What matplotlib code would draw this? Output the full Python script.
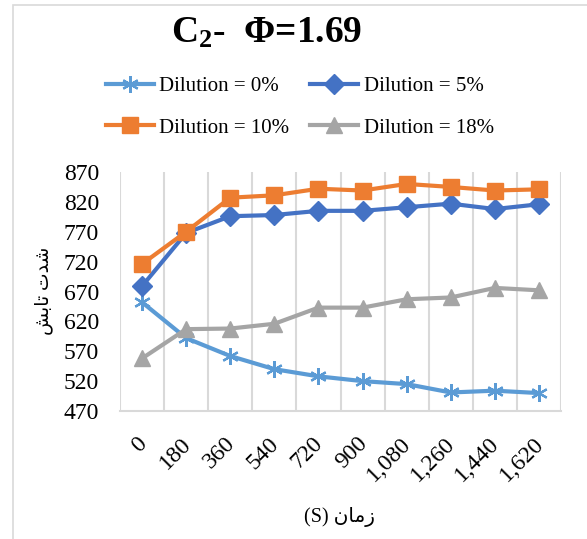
import numpy as np
import matplotlib
matplotlib.use("Agg")
import matplotlib.pyplot as plt
import matplotlib.transforms as mtransforms
from matplotlib.patches import Rectangle

plt.rcParams['font.family'] = ['Liberation Serif', 'DejaVu Sans']
plt.rcParams['mathtext.fontset'] = 'custom'
plt.rcParams['mathtext.rm'] = 'Liberation Serif'
plt.rcParams['mathtext.bf'] = 'Liberation Serif:bold'

# time steps (s) and tick labels
times = ['0', '180', '360', '540', '720', '900', '1,080', '1,260', '1,440', '1,620']

# radiation intensity per dilution level
dil_0 = [652, 592, 562, 540, 528, 520, 515, 501, 504, 500]
dil_5 = [679, 768, 796, 798, 805, 805, 811, 817, 808, 816]
dil_10 = [716, 770, 827, 831, 842, 839, 850, 845, 839, 841]
dil_18 = [558, 607, 608, 616, 643, 643, 657, 660, 676, 672]

labels = ['Dilution = 0%', 'Dilution = 5%', 'Dilution = 10%', 'Dilution = 18%']

# Arabic axis titles (pre-shaped, visual order)
ylab = '\uFEB6\uFE91\uFE8E\uFE97 \uFE95\uFEAA\uFEB7'
xlab = '(S) \uFEE5\uFE8E\uFEE3\uFEAF'

W, H = 587, 539
fig = plt.figure(figsize=(W / 100, H / 100), dpi=100)
fig.patches.append(Rectangle((13 / W, -0.1), 1.2, 1 - 5 / H + 0.1,
                             transform=fig.transFigure, fill=False,
                             edgecolor='#D9D9D9', linewidth=1.2))

ax = fig.add_axes([120 / W, 1 - 411 / H, (561 - 120) / W, (411 - 172) / H])
x = np.arange(len(times))

l0, = ax.plot(x, dil_0, color='#5B9BD5', lw=3, marker=(6, 2, 0), ms=12,
              mew=1.6, label=labels[0])
l5, = ax.plot(x, dil_5, color='#4472C4', lw=3, marker='D', ms=10,
              label=labels[1])
l10, = ax.plot(x, dil_10, color='#ED7D31', lw=3, marker='s', ms=12,
               label=labels[2])
l18, = ax.plot(x, dil_18, color='#A5A5A5', lw=3, marker='^', ms=12,
               label=labels[3])

ax.set_xlim(-0.5, len(times) - 0.5)
ax.set_ylim(470, 870)
ax.set_yticks(np.arange(470, 871, 50))
ax.tick_params(axis='y', length=0, labelsize=17, pad=15)
ax.set_xticks(x)
ax.set_xticklabels(times, rotation=45, ha='right', va='top',
                   rotation_mode='anchor', fontsize=17)
ax.tick_params(axis='x', length=0, pad=16)
shift = mtransforms.ScaledTranslation(-6 / 100, 0, fig.dpi_scale_trans)
for lab in ax.get_xticklabels():
    lab.set_transform(lab.get_transform() + shift)

# vertical gridlines between categories
for b in np.arange(-0.5, len(times), 1.0):
    ax.axvline(b, color='#D9D9D9', lw=1.5, zorder=0)

for s in ['top', 'right', 'left']:
    ax.spines[s].set_visible(False)
ax.spines['bottom'].set_color('#D9D9D9')
ax.spines['bottom'].set_linewidth(1.5)

fig.text(44 / W, 1 - 291 / H, ylab, rotation=90, ha='center', va='center',
         fontsize=13.5, family=['Liberation Serif', 'DejaVu Sans'])
fig.text(340 / W, 1 - 517 / H, xlab, ha='center', va='center',
         fontsize=14.5, family=['Liberation Serif', 'DejaVu Sans'])

fig.text(267 / W, 1 - 33 / H, r'$\mathbf{C_{2}}$-  $\mathbf{\Phi}$=1.69',
         ha='center', va='center', fontsize=27, fontweight='bold')

# row-wise legend: 0%, 5% / 10%, 18%
fig.legend([l0, l10, l5, l18], [labels[0], labels[2], labels[1], labels[3]],
           loc='center', bbox_to_anchor=(300 / W, 1 - 107 / H), ncol=2,
           frameon=False, fontsize=15, handlelength=2.3, handletextpad=0.25,
           columnspacing=1.0, labelspacing=1.05, borderpad=0)

fig.savefig('out.png', dpi=100)
